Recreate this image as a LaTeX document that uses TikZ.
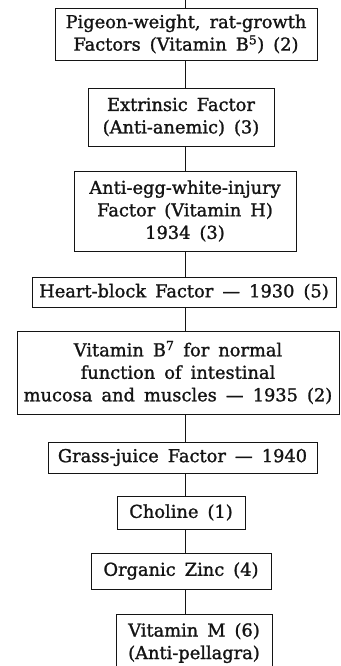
\documentclass[tikz,border=0pt]{standalone}
\usepackage{fontspec}
\setmainfont{DejaVu Serif}
\newfontfamily\factorfont{DejaVu Serif}[Ligatures=TeX,FakeBold=1.3,WordSpace=1.6]
\usepackage{tikz}
\usetikzlibrary{positioning,calc}
\usepackage{xcolor}
\definecolor{ink}{RGB}{20,20,20}

\tikzset{
  factorbox/.style={draw=ink,line width=0.9pt,align=center,inner sep=0pt,
    font=\factorfont\fontsize{17.8}{22.5}\selectfont,text=ink},
  spine/.style={draw=ink,line width=0.9pt}
}

\begin{document}
\begin{tikzpicture}[x=1pt,y=-1pt]
\useasboundingbox[fill=white] (0,0) rectangle (340,666);
\coordinate (top) at (185,0);
% the chain of factors, top to bottom
\node[factorbox,minimum width=262,minimum height=52] (pigeon) at (186,34)
  {Pigeon-weight, rat-growth\\Factors (Vitamin B\textsuperscript{5}) (2)};
\node[factorbox,minimum width=186,minimum height=58] (extrinsic) at (181,117)
  {Extrinsic Factor\\(Anti-anemic) (3)};
\node[factorbox,minimum width=222,minimum height=80] (eggwhite) at (185,211)
  {Anti-egg-white-injury\\Factor (Vitamin H)\\1934 (3)};
\node[factorbox,minimum width=304,minimum height=30] (heart) at (184,292)
  {Heart-block Factor --- 1930 (5)};
\node[factorbox,minimum width=322,minimum height=83] (bseven) at (178,372.5)
  {Vitamin B\textsuperscript{7} for normal\\function of intestinal\\mucosa and muscles --- 1935 (2)};
\node[factorbox,minimum width=269,minimum height=31] (grass) at (182.5,457.5)
  {Grass-juice Factor --- 1940};
\node[factorbox,minimum width=128,minimum height=33] (choline) at (181,512.5)
  {Choline (1)};
\node[factorbox,minimum width=180,minimum height=36] (zinc) at (181,571)
  {Organic Zinc (4)};
\node[factorbox,minimum width=156,minimum height=58] (vitm) at (194,643)
  {Vitamin M (6)\\(Anti-pellagra)};

\draw[spine] (top) -- (pigeon.north -| top);
\foreach \a/\b in {pigeon/extrinsic,extrinsic/eggwhite,eggwhite/heart,heart/bseven,
  bseven/grass,grass/choline,choline/zinc,zinc/vitm}
  \draw[spine] (\a.south -| top) -- (\b.north -| top);
\end{tikzpicture}
\end{document}
